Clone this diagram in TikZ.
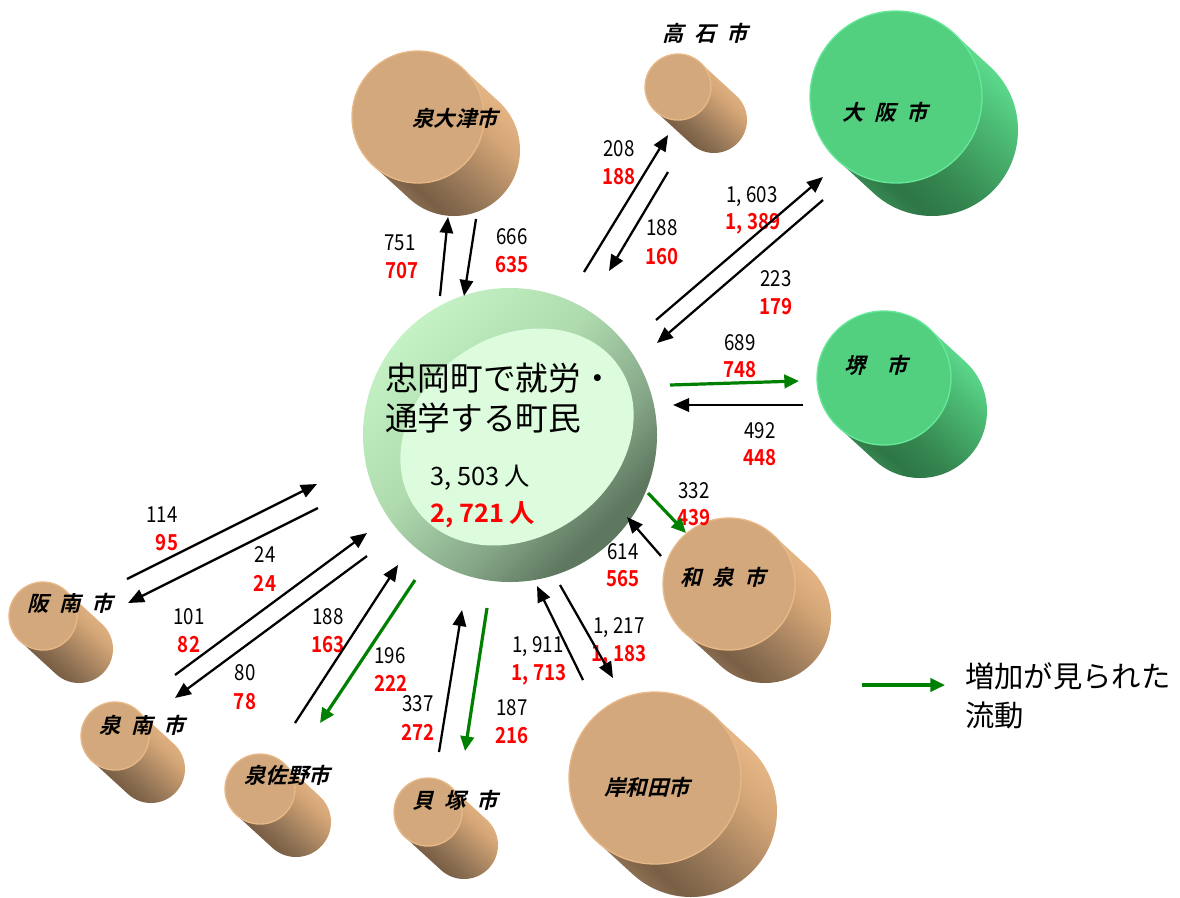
\documentclass[tikz,border=0pt]{standalone}
\usepackage{fontspec}
\setmainfont{Noto Sans CJK JP}
\newfontfamily\jpf{Noto Sans CJK JP}[BoldFont={Noto Sans CJK JP Bold}]
\newfontfamily\numf{Noto Sans CJK JP}[FakeStretch=0.85,BoldFont={Noto Sans CJK JP Bold}]
\newfontfamily\cityf{Noto Sans CJK JP}[FakeSlant=0.25,BoldFont={Noto Sans CJK JP Bold}]
\usetikzlibrary{arrows.meta}
\definecolor{bface}{HTML}{D2A87C}
\definecolor{brim}{HTML}{E8B887}
\definecolor{bsA}{HTML}{F0C090}
\definecolor{bsB}{HTML}{D4A576}
\definecolor{bsC}{HTML}{927456}
\definecolor{bsD}{HTML}{7A5F45}
\definecolor{bsE}{HTML}{A38565}
\definecolor{gface}{HTML}{53D07F}
\definecolor{grim}{HTML}{66E89A}
\definecolor{gsA}{HTML}{66EE9C}
\definecolor{gsB}{HTML}{4CBB74}
\definecolor{gsC}{HTML}{34854F}
\definecolor{gsD}{HTML}{2E7646}
\definecolor{gsE}{HTML}{42A060}
\definecolor{cA}{HTML}{C4F2C4}
\definecolor{cB}{HTML}{AEDAAE}
\definecolor{cC}{HTML}{84A486}
\definecolor{cD}{HTML}{5E7860}
\definecolor{cface}{HTML}{DDFCDD}
\definecolor{arrgreen}{HTML}{008000}
\pgfdeclarehorizontalshading{brownside}{100bp}{color(0bp)=(bsA); color(25bp)=(bsA); color(40bp)=(bsB); color(57bp)=(bsC); color(65bp)=(bsD); color(75bp)=(bsE); color(100bp)=(bsE)}
\pgfdeclarehorizontalshading{greenside}{100bp}{color(0bp)=(gsA); color(25bp)=(gsA); color(40bp)=(gsB); color(57bp)=(gsC); color(65bp)=(gsD); color(75bp)=(gsE); color(100bp)=(gsE)}
\pgfdeclarehorizontalshading{centerside}{100bp}{color(0bp)=(cA); color(25bp)=(cA); color(45bp)=(cB); color(62bp)=(cC); color(72bp)=(cD); color(100bp)=(cD)}
\newcommand\cylbody[4]{%
  \shade[shading=#4, shading angle=227.5] (#1,#2) ++(132.5:#3) -- ++(36,33)
    arc[start angle=132.5, end angle=-47.5, radius=#3] -- ++(-36,-33)
    arc[start angle=-47.5, end angle=-227.5, radius=#3] -- cycle;}
\newcommand\cylface[5]{%
  \filldraw[fill=#4, draw=#5, line width=1pt] (#1,#2) circle[radius=#3];}
\newcommand\gp{\hspace{0.5em}}
\begin{document}
\begin{tikzpicture}[x=0.75pt, y=-0.75pt,
  blk/.style={draw=black, line width=1.7pt, -{Triangle[length=12pt, width=10pt]}},
  grn/.style={draw=arrgreen, line width=2.4pt, -{Triangle[length=11pt, width=10pt]}},
  num/.style={inner sep=0pt, font=\numf\fontsize{16.5pt}{16.5pt}\selectfont},
  rnum/.style={inner sep=0pt, text=red, font=\numf\bfseries\fontsize{16.5pt}{16.5pt}\selectfont},
  city/.style={inner sep=0pt, font=\cityf\bfseries\fontsize{16pt}{16pt}\selectfont},
  big/.style={inner sep=0pt, anchor=west, font=\jpf\fontsize{24.5pt}{24.5pt}\selectfont},
  mid/.style={inner sep=0pt, anchor=west, font=\jpf\fontsize{19pt}{19pt}\selectfont},
  leg/.style={inner sep=0pt, anchor=west, font=\jpf\fontsize{22pt}{22pt}\selectfont},
]
\useasboundingbox (0,0) rectangle (1180,897);

% ---------- cylinders ----------
% central
\shade[shading=centerside, shading angle=-45] (510,435) circle[radius=147];
\fill[cface, rotate around={35:(517,437)}] (517,437) ellipse[x radius=124, y radius=100];

\cylbody{418}{117}{66}{brownside}\cylface{418}{117}{66}{bface}{brim}
\cylbody{678}{87}{33}{brownside}\cylface{678}{87}{33}{bface}{brim}
\cylbody{896}{97}{86}{greenside}\cylface{896}{97}{86}{gface}{grim}
\cylbody{884}{378}{67}{greenside}\cylface{884}{378}{67}{gface}{grim}
\cylbody{729}{584}{66}{brownside}\cylface{729}{584}{66}{bface}{brim}
\cylbody{655}{778}{86}{brownside}\cylface{655}{778}{86}{bface}{brim}
\cylbody{260}{789}{35}{brownside}\cylface{260}{789}{35}{bface}{brim}
\cylbody{428}{812}{34}{brownside}\cylface{428}{812}{34}{bface}{brim}
\cylbody{43}{616}{34}{brownside}\cylface{43}{616}{34}{bface}{brim}
\cylbody{115}{736}{34}{brownside}\cylface{115}{736}{34}{bface}{brim}

% ---------- city labels ----------
\node[city] (izumiotsu) at (455,118) {泉大津市};
\node[city] (takaishi) at (705,33) {高\gp 石\gp 市};
\node[city] (osaka) at (885,112) {大\gp 阪\gp 市};
\node[city] (sakai) at (876,365) {堺　市};
\node[city] (izumi) at (723,577) {和\gp 泉\gp 市};
\node[city] (kishiwada) at (647,787) {岸和田市};
\node[city] (izumisano) at (287,775) {泉佐野市};
\node[city] (kaizuka) at (455,800) {貝\gp 塚\gp 市};
\node[city] (hannan) at (70,603) {阪\gp 南\gp 市};
\node[city] (sennan) at (142,725) {泉\gp 南\gp 市};

% ---------- central text ----------
\node[big] (t1) at (385,378) {忠岡町で就労・};
\node[big] (t2) at (385,418) {通学する町民};
\node[mid] (tot1) at (430,478) {3, 503 人};
\node[mid, text=red, font=\jpf\bfseries\fontsize{19pt}{19pt}\selectfont] (tot2) at (430,515) {2, 721 人};

% ---------- number labels ----------
\node[num] (n751) at (400,243) {751};   \node[rnum] (r707) at (402,271) {707};
\node[num] (n666) at (512,237) {666};   \node[rnum] (r635) at (512,265) {635};
\node[num] (n208) at (619,149) {208};   \node[rnum] (r188a) at (619,177) {188};
\node[num] (n188a) at (662,228) {188};  \node[rnum] (r160) at (662,257) {160};
\node[num] (n1603) at (752,197) {1, 603}; \node[rnum] (r1389) at (753,224) {1, 389};
\node[num] (n223) at (776,279) {223};   \node[rnum] (r179) at (776,307) {179};
\node[num] (n689) at (740,343) {689};   \node[rnum] (r748) at (740,370) {748};
\node[num] (n492) at (760,431) {492};   \node[rnum] (r448) at (760,458) {448};
\node[num] (n332) at (694,491) {332};   \node[rnum] (r439) at (694,518) {439};
\node[num] (n614) at (623,552) {614};   \node[rnum] (r565) at (623,579) {565};
\node[num] (n1217) at (619,628) {1, 217}; \node[rnum] (r1183) at (619,656) {1, 183};
\node[num] (n1911) at (538,647) {1, 911}; \node[rnum] (r1713) at (539,675) {1, 713};
\node[num] (n187) at (512,708) {187};   \node[rnum] (r216) at (512,736) {216};
\node[num] (n337) at (418,704) {337};   \node[rnum] (r272) at (418,732) {272};
\node[num] (n196) at (390,656) {196};   \node[rnum] (r222) at (391,683) {222};
\node[num] (n188b) at (328,617) {188};  \node[rnum] (r163) at (328,645) {163};
\node[num] (n80) at (245,673) {80};     \node[rnum] (r78) at (245,702) {78};
\node[num] (n101) at (189,617) {101};   \node[rnum] (r82) at (189,645) {82};
\node[num] (n24) at (265,555) {24};     \node[rnum] (r24) at (265,583) {24};
\node[num] (n114) at (162,515) {114};   \node[rnum] (r95) at (167,543) {95};

% ---------- arrow end points ----------
\coordinate (a751t) at (440,296);  \coordinate (a751h) at (448,217);
\coordinate (a666t) at (476,219);  \coordinate (a666h) at (464,296);
\coordinate (a208t) at (584,272);  \coordinate (a208h) at (668,135);
\coordinate (a188t) at (668,172);  \coordinate (a188h) at (609,271);
\coordinate (a1603t) at (656,320); \coordinate (a1603h) at (823,177);
\coordinate (a223t) at (823,200);  \coordinate (a223h) at (657,343);
\coordinate (a689t) at (670,385);  \coordinate (a689h) at (799,381);
\coordinate (a492t) at (803,405);  \coordinate (a492h) at (673,405);
\coordinate (a332t) at (648,493);  \coordinate (a332h) at (686,533);
\coordinate (a614t) at (661,556);  \coordinate (a614h) at (627,517);
\coordinate (a1217t) at (560,585); \coordinate (a1217h) at (613,678);
\coordinate (a1911t) at (583,680); \coordinate (a1911h) at (537,586);
\coordinate (a187t) at (487,608);  \coordinate (a187h) at (465,751);
\coordinate (a337t) at (439,752);  \coordinate (a337h) at (462,610);
\coordinate (a196t) at (415,580);  \coordinate (a196h) at (320,723);
\coordinate (a188bt) at (295,723); \coordinate (a188bh) at (398,565);
\coordinate (a80t) at (367,556);   \coordinate (a80h) at (175,698);
\coordinate (a101t) at (175,675);  \coordinate (a101h) at (367,533);
\coordinate (a24t) at (318,508);   \coordinate (a24h) at (128,603);
\coordinate (a114t) at (127,579);  \coordinate (a114h) at (317,484);
\coordinate (legt) at (862,685);   \coordinate (legh) at (945,685);

% ---------- arrows ----------
\draw[blk] (a751t) -- (a751h);
\draw[blk] (a666t) -- (a666h);
\draw[blk] (a208t) -- (a208h);
\draw[blk] (a188t) -- (a188h);
\draw[blk] (a1603t) -- (a1603h);
\draw[blk] (a223t) -- (a223h);
\draw[grn] (a689t) -- (a689h);
\draw[blk] (a492t) -- (a492h);
\draw[grn] (a332t) -- (a332h);
\draw[blk] (a614t) -- (a614h);
\draw[blk] (a1217t) -- (a1217h);
\draw[blk] (a1911t) -- (a1911h);
\draw[grn] (a187t) -- (a187h);
\draw[blk] (a337t) -- (a337h);
\draw[grn] (a196t) -- (a196h);
\draw[blk] (a188bt) -- (a188bh);
\draw[blk] (a80t) -- (a80h);
\draw[blk] (a101t) -- (a101h);
\draw[blk] (a24t) -- (a24h);
\draw[blk] (a114t) -- (a114h);

% ---------- legend ----------
\draw[grn] (legt) -- (legh);
\node[leg] (leg1) at (965,676) {増加が見られた};
\node[leg] (leg2) at (965,715) {流動};
\end{tikzpicture}
\end{document}
